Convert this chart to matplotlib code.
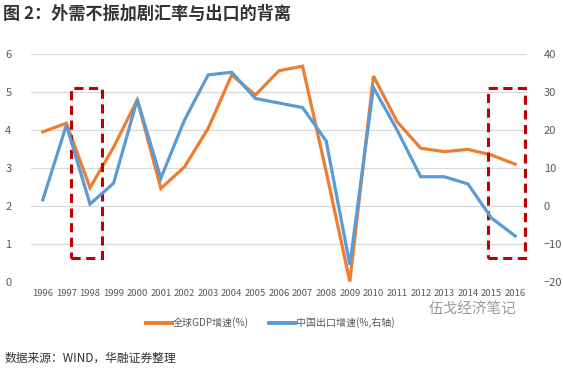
import matplotlib
matplotlib.use("Agg")
import matplotlib.pyplot as plt
from matplotlib.patches import Rectangle

plt.rcParams['font.family'] = ['Noto Sans CJK SC', 'DejaVu Sans']

# data
years = list(range(1996, 2017))
gdp_growth = [3.95, 4.18, 2.48, 3.55, 4.79, 2.46, 3.03, 4.04, 5.45, 4.92, 5.56,
              5.68, 2.9, 0.01, 5.42, 4.22, 3.52, 3.43, 3.49, 3.34, 3.10]
export_growth = [1.6, 21.3, 0.5, 6.0, 28.0, 7.3, 22.6, 34.5, 35.2, 28.3, 27.1,
                 25.9, 17.1, -15.5, 31.2, 20.0, 7.7, 7.7, 5.8, -3.2, -7.9]
left_ticks = [0, 1, 2, 3, 4, 5, 6]
right_ticks = [-20, -10, 0, 10, 20, 30, 40]

ORANGE = '#ED7D31'
BLUE = '#5B9BD5'
GRID = '#D9D9D9'
TXT = '#595959'

fig = plt.figure(figsize=(5.63, 3.70), dpi=100)
ax = fig.add_axes([0.055, 0.238, 0.881, 0.616])
ax2 = ax.twinx()

ax.plot(years, gdp_growth, color=ORANGE, lw=2.3, solid_joinstyle='miter', zorder=3)
ax2.plot(years, export_growth, color=BLUE, lw=2.3, solid_joinstyle='miter', zorder=3)

ax.set_ylim(0, 6)
ax.set_yticks(left_ticks)
ax2.set_ylim(-20, 40)
ax2.set_yticks(right_ticks)
ax.set_xlim(1995.5, 2016.5)
ax.set_xticks(years)
ax.set_xticklabels([str(y) for y in years], fontsize=6.8, color=TXT)
ax.tick_params(axis='x', length=0, pad=5)
ax.tick_params(axis='y', length=0, labelsize=8, labelcolor=TXT, pad=14)
ax2.tick_params(axis='y', length=0, labelsize=8, labelcolor=TXT, pad=12)
for a in (ax, ax2):
    for s in a.spines.values():
        s.set_visible(False)
ax.yaxis.grid(True, color=GRID, lw=0.9)
ax.set_axisbelow(True)

# red dashed highlight boxes
for x0, x1 in [(1997.18, 1998.52), (2014.85, 2016.4)]:
    ax.add_patch(Rectangle((x0, 0.63), x1 - x0, 4.47, fill=False,
                           edgecolor='#C00000', lw=2.2, ls=(0, (3, 1.8)),
                           zorder=5, clip_on=False))

# legend
ax.plot([], [], color=ORANGE, lw=2.8, label='全球GDP增速(%)')
ax.plot([], [], color=BLUE, lw=2.8, label='中国出口增速(%,右轴)')
fig.legend(*ax.get_legend_handles_labels(), loc='center', ncol=2,
           bbox_to_anchor=(0.48, 0.127), frameon=False, fontsize=7.2,
           labelcolor=TXT, handlelength=2.6, handletextpad=0.1, columnspacing=2.0)

fig.text(0.005, 0.962, '图 2：外需不振加剧汇率与出口的背离', fontsize=12.3,
         fontweight='bold', color='#333333', va='center')
fig.text(0.762, 0.165, '伍戈经济笔记', fontsize=10.5, color='#9a9a9a', va='center')
fig.text(0.008, 0.032, '数据来源：WIND，华融证券整理', fontsize=8.5,
         color='#333333', va='center')

fig.savefig('out.png', dpi=100)
